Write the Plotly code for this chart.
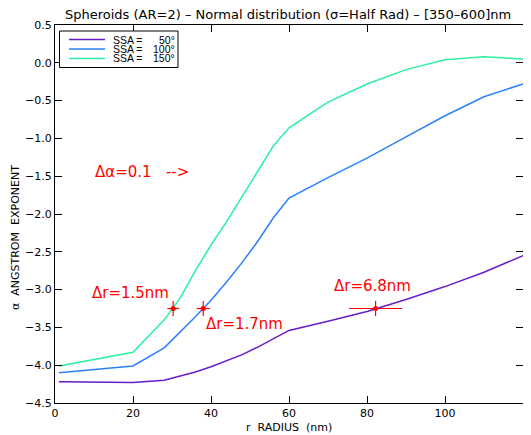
import plotly.graph_objects as go

# ---------------- data ----------------
radius = [1, 20, 28, 32, 36, 40, 44, 48, 52, 56, 60, 70, 80, 90, 100, 110, 120]
alpha_ssa50 = [-4.22, -4.23, -4.20, -4.15, -4.09, -4.02, -3.94, -3.86, -3.76, -3.65, -3.54,
               -3.42, -3.29, -3.13, -2.96, -2.77, -2.55]
alpha_ssa100 = [-4.10, -4.01, -3.77, -3.57, -3.36, -3.14, -2.90, -2.64, -2.36, -2.05, -1.79,
                -1.52, -1.26, -0.98, -0.70, -0.45, -0.28]
alpha_ssa150 = [-4.01, -3.83, -3.40, -3.12, -2.75, -2.41, -2.10, -1.77, -1.43, -1.10, -0.86,
                -0.52, -0.28, -0.09, 0.04, 0.08, 0.05]
series_names = ["SSA =", "SSA =", "SSA ="]
series_values = ["50°", "100°", "150°"]
series_colors = ["#6a1cc8", "#2a80ff", "#2af0a0"]

star_r = [30.3, 38.0, 82.2]
star_alpha = [-3.25, -3.25, -3.25]
star_dr = [1.5, 1.7, 6.8]
d_alpha = 0.1
star_labels = ["Δr=1.5nm", "Δr=1.7nm", "Δr=6.8nm"]
star_label_r = [19.4, 48.5, 81.5]
star_label_a = [-3.05, -3.45, -2.95]

x_ticks = [0, 20, 40, 60, 80, 100, 120]
y_ticks = [0.5, 0.0, -0.5, -1.0, -1.5, -2.0, -2.5, -3.0, -3.5, -4.0, -4.5]

title = "Spheroids (AR=2) – Normal distribution (σ=Half Rad) – [350–600]nm"
x_title = "r\u00a0\u00a0RADIUS\u00a0\u00a0(nm)"
y_title = "α\u00a0\u00a0ANGSTROM\u00a0\u00a0EXPONENT"

# page is 531x435; the html body has an 8px margin, so the figure is 8px smaller
OFF = 8
W, H = 531 - OFF, 435 - OFF
L, R, T, B = 55 - OFF, 8, 25 - OFF, 32
FONT = "DejaVu Sans"
FONT2 = "Liberation Sans"


def pxx(x):  # page pixel -> paper
    return (x - OFF - L) / (W - L - R)


def pxy(y):
    return (H - B - (y - OFF)) / (H - T - B)


fig = go.Figure()
for ys, c in zip([alpha_ssa50, alpha_ssa100, alpha_ssa150], series_colors):
    fig.add_trace(go.Scatter(x=radius, y=ys, mode="lines",
                             line=dict(color=c, width=1.5), showlegend=False))

fig.add_trace(go.Scatter(
    x=star_r, y=star_alpha, mode="markers",
    marker=dict(color="red", size=5),
    error_x=dict(type="data", array=star_dr, color="red", thickness=1.2, width=0),
    error_y=dict(type="data", array=[d_alpha] * len(star_r), color="red", thickness=1.2, width=0),
    showlegend=False, cliponaxis=False))

annotations = []
for t, xr, ya in zip(star_labels, star_label_r, star_label_a):
    annotations.append(dict(x=xr, y=ya, xref="x", yref="y", text=t, showarrow=False,
                            font=dict(family=FONT, size=15, color="red"),
                            xanchor="center", yanchor="middle"))
annotations.append(dict(x=9.8, y=-1.44, xref="x", yref="y",
                        text="Δα=0.1\u00a0\u00a0\u00a0-->", showarrow=False,
                        font=dict(family=FONT, size=15, color="red"),
                        xanchor="left", yanchor="middle"))

# title and axis titles
annotations.append(dict(x=pxx(288), y=pxy(14), xref="paper", yref="paper", text=title,
                        showarrow=False, font=dict(family=FONT, size=13, color="black"),
                        xanchor="center", yanchor="middle"))
annotations.append(dict(x=pxx(289), y=pxy(427), xref="paper", yref="paper", text=x_title,
                        showarrow=False, font=dict(family=FONT, size=11, color="black"),
                        xanchor="center", yanchor="middle"))
annotations.append(dict(x=pxx(15), y=pxy(238), xref="paper", yref="paper", text=y_title,
                        showarrow=False, textangle=-90,
                        font=dict(family=FONT, size=11, color="black"),
                        xanchor="center", yanchor="middle"))

# legend (drawn as a box)
shapes = [dict(type="rect", xref="paper", yref="paper",
               x0=pxx(59.5), x1=pxx(178), y0=pxy(31), y1=pxy(67.5),
               line=dict(color="black", width=1), fillcolor="white", layer="above")]
rows = [39.5, 49, 58.5]
for yy, c, nm, val in zip(rows, series_colors, series_names, series_values):
    shapes.append(dict(type="line", xref="paper", yref="paper",
                       x0=pxx(69), x1=pxx(105), y0=pxy(yy), y1=pxy(yy),
                       line=dict(color=c, width=1.5), layer="above"))
    annotations.append(dict(x=pxx(111), y=pxy(yy), xref="paper", yref="paper", text=nm,
                            showarrow=False, font=dict(family=FONT2, size=10.5, color="black"),
                            xanchor="left", yanchor="middle"))
    annotations.append(dict(x=pxx(177), y=pxy(yy), xref="paper", yref="paper", text=val,
                            showarrow=False, font=dict(family=FONT2, size=10.5, color="black"),
                            xanchor="right", yanchor="middle"))

axis_common = dict(showgrid=False, zeroline=False, showline=True, linecolor="black",
                   linewidth=1, mirror="allticks", ticks="inside", ticklen=7,
                   tickcolor="black", tickwidth=1,
                   tickfont=dict(family=FONT, size=11, color="black"))

fig.update_layout(
    width=W, height=H,
    margin=dict(l=L, r=R, t=T, b=B),
    paper_bgcolor="white", plot_bgcolor="white",
    xaxis=dict(range=[0, 120], tickvals=x_ticks, ticktext=[str(v) for v in x_ticks],
               **axis_common),
    yaxis=dict(range=[-4.5, 0.5], tickvals=y_ticks,
               ticktext=[("%.1f" % v).replace("-", "\u2212") for v in y_ticks],
               **axis_common),
    annotations=annotations, shapes=shapes, showlegend=False,
)

fig.write_html("out.html")
